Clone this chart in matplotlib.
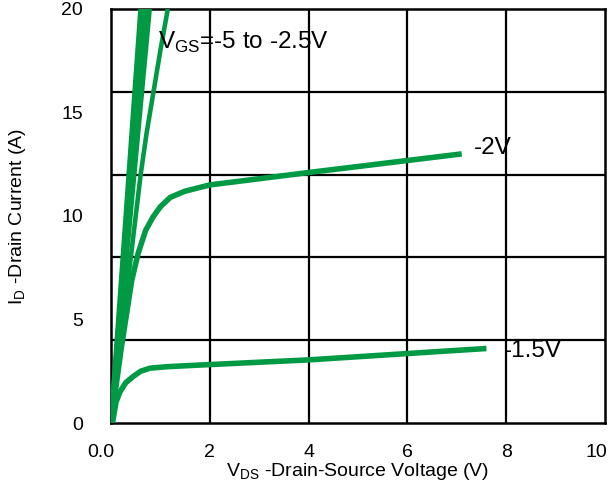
import matplotlib
matplotlib.use('Agg')
import matplotlib.pyplot as plt
import matplotlib.transforms as mtransforms
import numpy as np

plt.rcParams['font.family'] = ['Liberation Sans', 'DejaVu Sans']
plt.rcParams['mathtext.fontset'] = 'custom'
plt.rcParams['mathtext.rm'] = 'Liberation Sans'

GREEN = '#009A44'

# VGS = -5 .. -3 V : nearly straight lines, they merge into one thick band
vds_hi = [0.0, 0.60]
id_5v = [0.0, 20.0]
vds_45 = [0.0, 0.65]
vds_4 = [0.0, 0.70]
vds_35 = [0.0, 0.74]
vds_3 = [0.0, 0.78]

# VGS = -2.5 V
vds_25 = [0.0, 0.3, 0.6, 0.72, 0.86, 1.0, 1.15]
id_25 = [0.0, 6.0, 12.0, 14.0, 16.0, 18.0, 20.0]

# VGS = -2 V
vds_2 = [0.0, 0.2, 0.42, 0.55, 0.7, 0.85, 1.0, 1.2, 1.5, 2.0, 4.0, 7.1]
id_2 = [0.0, 3.5, 6.9, 8.2, 9.3, 9.95, 10.45, 10.9, 11.2, 11.5, 12.1, 13.0]

# VGS = -1.5 V
vds_15 = [0.03, 0.1, 0.18, 0.3, 0.45, 0.6, 0.79, 1.13, 1.8, 4.0, 7.6]
id_15 = [0.0, 1.0, 1.5, 1.95, 2.25, 2.5, 2.65, 2.72, 2.8, 3.05, 3.6]

xticks = [0, 2, 4, 6, 8, 10]
xticklabels = ['0.0', '2', '4', '6', '8', '10']
yticks = [0, 5, 10, 15, 20]
ygrid = [0, 4, 8, 12, 16, 20]

fig = plt.figure(figsize=(6.14, 4.9), dpi=100)
ax = fig.add_axes([0.1808, 0.1367, 0.8045, 0.845])

for xs in [vds_hi, vds_45, vds_4, vds_35, vds_3]:
    ax.plot(xs, id_5v, color=GREEN, lw=3.5, solid_capstyle='butt', zorder=3)
ax.plot(vds_25, id_25, color=GREEN, lw=3.3, solid_capstyle='butt', zorder=3)
ax.plot(vds_2, id_2, color=GREEN, lw=4.0, solid_capstyle='butt', zorder=3)
ax.plot(vds_15, id_15, color=GREEN, lw=4.0, solid_capstyle='butt', zorder=3)

ax.set_xlim(0, 10)
ax.set_ylim(0, 20)
ax.set_xticks(xticks)
ax.set_xticklabels(xticklabels)
ax.set_yticks(yticks)
ax.set_yticks(ygrid, minor=True)
ax.tick_params(axis='both', which='both', length=0, labelsize=14)
ax.tick_params(axis='x', pad=15)
ax.tick_params(axis='y', pad=20)
labels = ax.get_xticklabels()
labels[0].set_transform(labels[0].get_transform() +
                        mtransforms.ScaledTranslation(-0.1, 0, fig.dpi_scale_trans))
labels[-1].set_transform(labels[-1].get_transform() +
                         mtransforms.ScaledTranslation(-0.09, 0, fig.dpi_scale_trans))
ax.grid(False)
for v in xticks[1:-1]:
    ax.axvline(v, color='black', lw=1.6, zorder=1)
for v in ygrid[1:-1]:
    ax.axhline(v, color='black', lw=1.6, zorder=1)
for s in ax.spines.values():
    s.set_linewidth(1.8)

ax.set_xlabel(r'V$_\mathregular{DS}$ -Drain-Source Voltage (V)', fontsize=14, labelpad=0)
ax.set_ylabel(r'I$_\mathregular{D}$ -Drain Current (A)', fontsize=14, labelpad=24)

ax.text(0.95, 18.4, r'V$_\mathregular{GS}$=-5 to -2.5V', fontsize=17.5, va='center')
ax.text(7.35, 13.3, '-2V', fontsize=17.5, va='center')
ax.text(7.95, 3.5, '-1.5V', fontsize=17.5, va='center')

fig.savefig('out.png', dpi=100)
